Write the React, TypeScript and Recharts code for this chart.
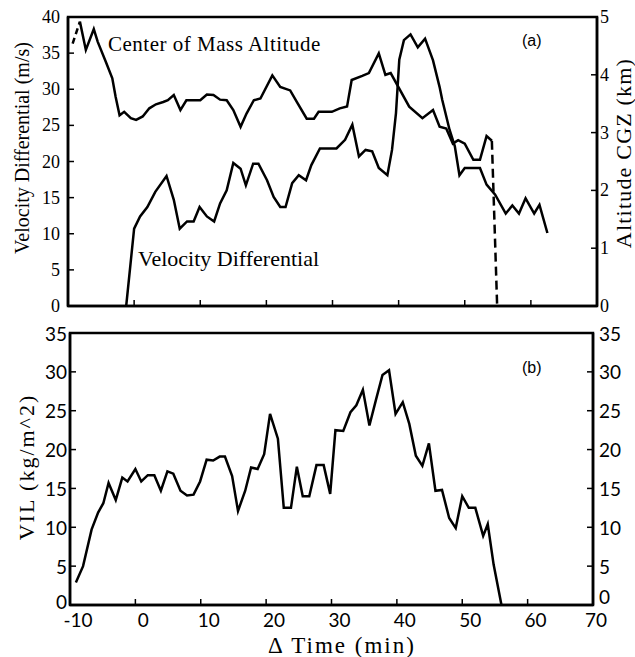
import { LineChart, Line, XAxis, YAxis, ReferenceArea } from 'recharts'

// axis ticks
const timeTicks = [-10, 0, 10, 20, 30, 40, 50, 60, 70]
const velocityTicks = [0, 5, 10, 15, 20, 25, 30, 35, 40]
const altitudeTicks = [0, 1, 2, 3, 4, 5]
const vilTicks = [0, 5, 10, 15, 20, 25, 30, 35]

// (a) velocity differential, m/s
const velTime = [
  -1.2, 0, 0.9, 2, 3.2, 4.9, 6, 6.9, 8, 9, 9.9, 11, 12.1, 13, 14, 15, 16.1, 16.9, 18, 18.8,
  20.1, 21.1, 22.1, 22.9, 23.9, 24.9, 26, 26.8, 28.1, 30.6, 31.9, 33, 34, 35, 36, 37, 38.3, 39,
  39.6, 40.1, 40.8, 41.8, 42.9, 44, 45.2, 46.2, 46.6, 47.7, 48.5, 49.2, 50, 52.3, 53.3, 54.6,
  56.2, 57.2, 58.2, 59.2, 60.5, 61.3, 62.5,
]
const velValue = [
  0, 10.7, 12.4, 13.7, 15.8, 18, 14.7, 10.7, 11.7, 11.7, 13.7, 12.4, 11.7, 14.2, 16, 19.8, 19,
  16.7, 19.7, 19.7, 17.4, 15.1, 13.7, 13.7, 17, 18.1, 17.4, 19.5, 21.8, 21.8, 23, 25.1, 20.7,
  21.6, 21.4, 19.1, 18.1, 21.6, 26.7, 34.1, 36.8, 37.6, 35.8, 37, 34, 30.3, 28.5, 24.4, 22.1,
  18.1, 19.1, 19.1, 16.8, 15.4, 12.8, 13.9, 12.8, 14.9, 12.8, 14, 10.1,
]

// (a) center of mass altitude, km
const cgzTime = [
  -8.2, -7.3, -6.1, -5.5, -4.3, -3.3, -2.8, -2.2, -1.5, -0.5, 0.3, 1.3, 2.3, 3.3, 4.4, 5.1, 6,
  7, 7.9, 10, 11, 12, 13, 14, 15, 16.1, 17, 18.1, 19.1, 20.9, 22.1, 23.6, 24.6, 26.1, 27.2,
  27.9, 29.9, 31.1, 32.2, 32.9, 34.5, 35.5, 37, 38, 38.8, 41.6, 43.6, 45.2, 46.2, 47.2, 48.2,
  49, 50, 51.3, 52.3, 53.3, 54.1,
]
const cgzKm = [
  4.92, 4.43, 4.79, 4.57, 4.23, 3.94, 3.62, 3.3, 3.36, 3.25, 3.22, 3.28, 3.42, 3.49, 3.53, 3.56,
  3.65, 3.39, 3.56, 3.56, 3.66, 3.65, 3.57, 3.56, 3.39, 3.1, 3.33, 3.56, 3.59, 3.99, 3.79, 3.73,
  3.53, 3.24, 3.24, 3.36, 3.36, 3.42, 3.45, 3.91, 3.98, 4.03, 4.37, 4.0, 4.03, 3.45, 3.25, 3.39,
  3.1, 3.07, 2.81, 2.87, 2.81, 2.53, 2.53, 2.94, 2.86,
]
const cgzStartTime = [-9.3, -8.2]
const cgzStartKm = [4.54, 4.92]
const cgzEndTime = [54.1, 54.9]
const cgzEndKm = [2.86, 0]

// (b) VIL, kg/m^2
const vilTime = [
  -9.1, -8, -6.7, -5.7, -4.9, -4.1, -3, -2, -1.2, 0, 0.9, 1.9, 2.9, 3.9, 4.9, 5.8, 6.9, 7.9, 8.9,
  9.9, 10.9, 11.9, 12.9, 13.7, 14.8, 15.7, 16.8, 17.7, 18.7, 19.7, 20.6, 21.8, 22.7, 23.8, 24.7,
  25.6, 26.6, 27.7, 28.8, 29.8, 30.6, 31.8, 32.9, 33.8, 34.8, 35.8, 36.8, 37.8, 38.8, 39.8, 40.9,
  41.9, 42.9, 43.9, 44.9, 45.9, 46.9, 48, 49, 50, 51, 52, 53.2, 53.9, 54.8, 56,
]
const vilValue = [
  2.9, 5, 9.7, 11.9, 13.1, 15.7, 13.5, 16.4, 15.9, 17.5, 15.9, 16.7, 16.7, 14.7, 17.2, 16.9, 14.7,
  14.1, 14.2, 15.9, 18.7, 18.6, 19.1, 19.1, 16.6, 12.1, 14.7, 17.7, 17.5, 19.4, 24.6, 21.4, 12.5,
  12.5, 17.8, 14, 14, 18, 18, 14.3, 22.5, 22.4, 24.8, 25.7, 27.7, 23.1, 26.4, 29.6, 30.2, 24.6,
  26.1, 23.3, 19.2, 17.9, 20.8, 14.7, 14.8, 11.2, 9.9, 14, 12.5, 12.5, 8.9, 10.4, 5.2, 0,
]

const zip = (ts: number[], vs: number[], key: string) => ts.map((t, i) => ({ t, [key]: vs[i] }))

const serif = 'Liberation Serif, Times New Roman, serif'
const sans = 'Lato, sans-serif'
const axisLine = { stroke: '#000', strokeWidth: 2.5 }
const lineProps = {
  type: 'linear' as const,
  stroke: '#000',
  strokeWidth: 2.5,
  dot: false,
  activeDot: false,
  isAnimationActive: false,
}

// tick mark drawn inside the plot + label outside
function AxisTick(props: any) {
  const { x, y, payload, side, gap, family, size, showText = true, dx = 0, zeroLift = 0 } = props
  const v = payload.value
  const lift = v === 0 ? zeroLift : 0
  let mark
  let text = null
  if (side === 'left') {
    const x0 = x + gap
    mark = <line x1={x0} x2={x0 + 6} y1={y} y2={y} stroke="#000" strokeWidth={1.5} />
    text = (
      <text x={x} y={y + lift} textAnchor="end" dominantBaseline="central" fontFamily={family} fontSize={size} fill="#000">
        {v}
      </text>
    )
  } else if (side === 'right') {
    const x0 = x - gap
    mark = <line x1={x0 - 6} x2={x0} y1={y} y2={y} stroke="#000" strokeWidth={1.5} />
    text = (
      <text x={x} y={y + lift} textAnchor="start" dominantBaseline="central" fontFamily={family} fontSize={size} fill="#000">
        {v}
      </text>
    )
  } else {
    const y0 = y - gap
    mark = <line x1={x} x2={x} y1={y0 - 6} y2={y0} stroke="#000" strokeWidth={1.5} />
    if (showText)
      text = (
        <text x={x + (v === 70 ? 3 : dx)} y={y} textAnchor="middle" dominantBaseline="hanging" fontFamily={family} fontSize={size} fill="#000">
          {v}
        </text>
      )
  }
  return (
    <g>
      {mark}
      {text}
    </g>
  )
}

function Caption({ x, y, size = 20, rotate = false, spacing = 0, family = serif, children }: any) {
  const style: React.CSSProperties = {
    position: 'absolute',
    left: x,
    top: y,
    fontFamily: family,
    fontSize: size,
    letterSpacing: spacing,
    lineHeight: 1,
    whiteSpace: 'nowrap',
    color: '#000',
  }
  if (rotate) style.transform = 'translate(-50%, -50%) rotate(-90deg)'
  return <div style={style}>{children}</div>
}

export default function App() {
  return (
    <div style={{ position: 'absolute', left: 0, top: 0, width: 635, height: 657, background: '#fff' }}>
      <div style={{ position: 'absolute', left: 0, top: 0 }}>
        <LineChart width={635} height={320} margin={{ top: 17, right: 0, bottom: 0, left: 0 }}>
          <XAxis
            dataKey="t"
            type="number"
            domain={[-10, 70]}
            ticks={timeTicks}
            height={14}
            tickSize={0}
            tickMargin={4}
            tickLine={false}
            axisLine={axisLine}
            tick={<AxisTick side="bottom" gap={4} showText={false} />}
          />
          <YAxis
            yAxisId="v"
            type="number"
            domain={[0, 40]}
            ticks={velocityTicks}
            width={68}
            tickSize={0}
            tickMargin={8}
            tickLine={false}
            axisLine={axisLine}
            tick={<AxisTick side="left" gap={8} family={serif} size={18} />}
          />
          <YAxis
            yAxisId="km"
            orientation="right"
            type="number"
            domain={[0, 5]}
            ticks={altitudeTicks}
            width={38}
            tickSize={0}
            tickMargin={3}
            tickLine={false}
            axisLine={axisLine}
            tick={<AxisTick side="right" gap={3} family={serif} size={18} />}
          />
          <ReferenceArea yAxisId="v" x1={-10} x2={70} y1={0} y2={40} fill="none" stroke="#000" strokeWidth={2.5} ifOverflow="visible" />
          <Line {...lineProps} yAxisId="v" data={zip(velTime, velValue, 'v')} dataKey="v" />
          <Line {...lineProps} yAxisId="km" data={zip(cgzTime, cgzKm, 'km')} dataKey="km" />
          <Line {...lineProps} yAxisId="km" data={zip(cgzStartTime, cgzStartKm, 'km')} dataKey="km" strokeDasharray="6 4" />
          <Line {...lineProps} yAxisId="km" data={zip(cgzEndTime, cgzEndKm, 'km')} dataKey="km" strokeDasharray="9 5" />
        </LineChart>
      </div>
      <div style={{ position: 'absolute', left: 0, top: 316 }}>
        <LineChart width={635} height={319} margin={{ top: 17, right: 0, bottom: 0, left: 0 }}>
          <XAxis
            dataKey="t"
            type="number"
            domain={[-10, 70]}
            ticks={timeTicks}
            height={30}
            tickSize={0}
            tickMargin={7}
            tickLine={false}
            axisLine={axisLine}
            tick={<AxisTick side="bottom" gap={7} family={sans} size={19} dx={8} />}
          />
          <YAxis
            yAxisId="l"
            type="number"
            domain={[0, 35]}
            ticks={vilTicks}
            width={70}
            tickSize={0}
            tickMargin={3}
            tickLine={false}
            axisLine={axisLine}
            tick={<AxisTick side="left" gap={3} family={sans} size={19} zeroLift={-4} />}
          />
          <YAxis
            yAxisId="r"
            orientation="right"
            type="number"
            domain={[0, 35]}
            ticks={vilTicks}
            width={42}
            tickSize={0}
            tickMargin={6}
            tickLine={false}
            axisLine={axisLine}
            allowDataOverflow
            tick={<AxisTick side="right" gap={6} family={sans} size={19} zeroLift={-9} />}
          />
          <ReferenceArea yAxisId="l" x1={-10} x2={70} y1={0} y2={35} fill="none" stroke="#000" strokeWidth={2.5} ifOverflow="visible" />
          <Line {...lineProps} yAxisId="l" data={zip(vilTime, vilValue, 'vil')} dataKey="vil" />
        </LineChart>
      </div>

      <Caption x={22} y={148} rotate>Velocity Differential (m/s)</Caption>
      <Caption x={624} y={153} size={22} spacing={1.2} rotate>Altitude CGZ (km)</Caption>
      <Caption x={27} y={467} size={22} spacing={2} rotate>VIL (kg/m^2)</Caption>
      <Caption x={108} y={34} size={21} spacing={0.5}>Center of Mass Altitude</Caption>
      <Caption x={138} y={248} size={22}>Velocity Differential</Caption>
      <Caption x={522} y={33} size={16} family="Liberation Sans, Arial, sans-serif">(a)</Caption>
      <Caption x={522} y={360} size={16} family="Liberation Sans, Arial, sans-serif">(b)</Caption>
      <Caption x={268} y={634} size={23} spacing={2}>Δ Time (min)</Caption>
    </div>
  )
}
